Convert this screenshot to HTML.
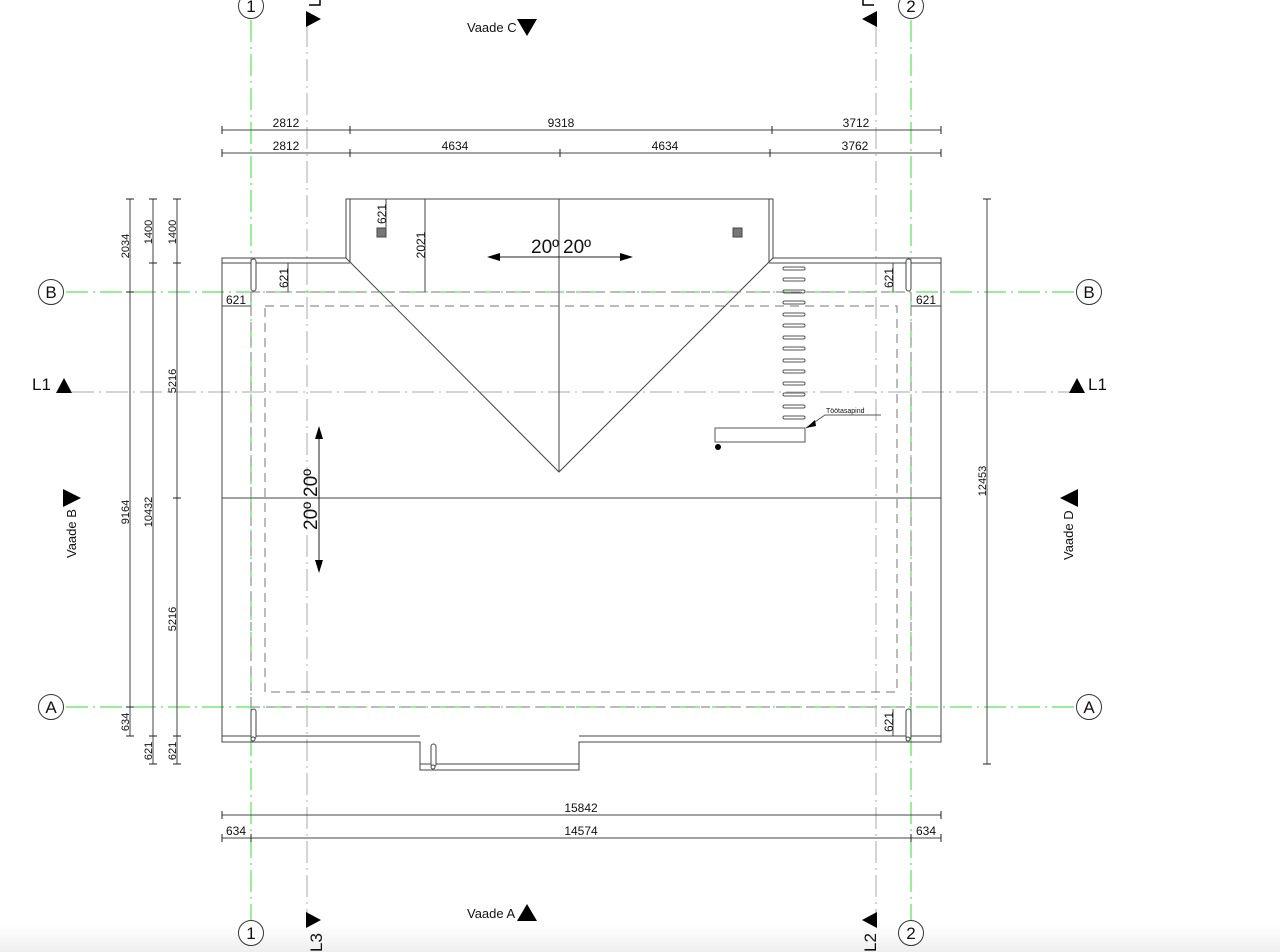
<!DOCTYPE html>
<html><head><meta charset="utf-8"><style>
html,body{margin:0;padding:0;background:#fff;}
svg{display:block;font-family:"Liberation Sans",Arial,sans-serif;}
</style></head><body>
<svg width="1280" height="952" viewBox="0 0 1280 952" xmlns="http://www.w3.org/2000/svg">
<defs>
<linearGradient id="bg" x1="0" y1="0" x2="0" y2="1"><stop offset="0" stop-color="#fff"/><stop offset="1" stop-color="#eeeeee"/></linearGradient>
</defs>
<rect width="1280" height="952" fill="#fff"/>
<rect x="0" y="925" width="1280" height="27" fill="url(#bg)"/>

<g stroke="#33dd33" stroke-width="1" stroke-dasharray="22,5,2,5" fill="none">
<line x1="251" y1="20" x2="251" y2="920"/>
<line x1="911" y1="20" x2="911" y2="920"/>
<line x1="66" y1="292" x2="1076" y2="292"/>
<line x1="66" y1="707" x2="1076" y2="707"/>
</g>
<g stroke="#aaa" stroke-width="1" stroke-dasharray="22,5,2,5" fill="none">
<line x1="307" y1="25" x2="307" y2="915"/>
<line x1="876" y1="25" x2="876" y2="915"/>
<line x1="72" y1="392" x2="1070" y2="392"/>
</g>

<g fill="#fff" stroke="#333" stroke-width="1">
<circle cx="251" cy="6" r="12.5"/><circle cx="911" cy="6" r="12.5"/>
<circle cx="251" cy="933" r="12.5"/><circle cx="911" cy="933" r="12.5"/>
<circle cx="51" cy="292" r="12.5"/><circle cx="1089" cy="292" r="12.5"/>
<circle cx="51" cy="707" r="12.5"/><circle cx="1089" cy="707" r="12.5"/>
</g>
<g font-size="17" text-anchor="middle" fill="#111">
<text x="251" y="12">1</text><text x="911" y="12">2</text>
<text x="251" y="939">1</text><text x="911" y="939">2</text>
<text x="51" y="298">B</text><text x="1089" y="298">B</text>
<text x="51" y="713">A</text><text x="1089" y="713">A</text>
</g>

<g fill="#000">
<polygon points="306,11 321,19 306,27"/>
<polygon points="877,11 862,19 877,27"/>
<polygon points="306,912 321,920 306,928"/>
<polygon points="877,912 862,920 877,928"/>
<polygon points="56,393 64,378 72,393"/>
<polygon points="1069,393 1077,378 1085,393"/>
<polygon points="517,19 537,19 527,36"/>
<polygon points="517,921 537,921 527,904"/>
<polygon points="63,489 81,498 63,507"/>
<polygon points="1078,489 1060,498 1078,507"/>
</g>
<path d="M309,5 H320 V-6" stroke="#000" stroke-width="1.5" fill="none"/>
<path d="M874,5 H863 V-6" stroke="#000" stroke-width="1.5" fill="none"/>
<g font-size="17" fill="#111">
<text x="32" y="390">L1</text>
<text x="1088" y="390">L1</text>
<text transform="translate(322,952) rotate(-90)">L3</text>
<text transform="translate(876,952) rotate(-90)">L2</text>
</g>
<g font-size="13" fill="#111">
<text x="467" y="32">Vaade C</text>
<text x="467" y="918">Vaade A</text>
<text transform="translate(76,558) rotate(-90)">Vaade B</text>
<text transform="translate(1073,560) rotate(-90)">Vaade D</text>
</g>

<g stroke="#444" stroke-width="1" fill="none">
<path d="M346,258 V199 H773 V258"/>
<path d="M350,262 V199 M769,262 V199"/>
<path d="M346,258 H222 V742 H420 V770 H579 V742 H941 V258 H773"/>
<path d="M222,263 H350 M769,263 H941"/>
<path d="M222,736 H420 M579,736 H941"/>
<path d="M420,764 H579"/>
<path d="M346,258 L350,262 M773,258 L769,262"/>
<path d="M350,262 L559,472 L769,262"/>
<line x1="559" y1="199" x2="559" y2="472"/>
<line x1="222" y1="498" x2="941" y2="498"/>
</g>
<g stroke="#777" stroke-width="1" stroke-dasharray="9,6" fill="none">
<line x1="251" y1="292" x2="911" y2="292"/>
<line x1="251" y1="707" x2="911" y2="707"/>
<line x1="251" y1="292" x2="251" y2="707"/>
<line x1="911" y1="292" x2="911" y2="707"/>
<rect x="265" y="306" width="632" height="386"/>
</g>

<g stroke="#444" stroke-width="1" fill="#fff">
<rect x="251" y="259" width="5" height="32" rx="2.5"/>
<rect x="906" y="259" width="5" height="32" rx="2.5"/>
<rect x="251" y="709" width="5" height="30" rx="2.5"/>
<rect x="906" y="709" width="5" height="30" rx="2.5"/>
<rect x="431" y="744" width="5" height="23" rx="2.5"/>
<circle cx="253" cy="739" r="2"/><circle cx="908" cy="739" r="2"/><circle cx="433" cy="767" r="2"/>
</g>
<rect x="377" y="228" width="9" height="9" fill="#777" stroke="#444"/>
<rect x="733" y="228" width="9" height="9" fill="#777" stroke="#444"/>

<g stroke="#555" stroke-width="1" fill="none">
<rect x="783" y="267" width="22" height="3" rx="1.5"/><rect x="783" y="278" width="22" height="3" rx="1.5"/>
<rect x="783" y="290" width="22" height="3" rx="1.5"/><rect x="783" y="301" width="22" height="3" rx="1.5"/>
<rect x="783" y="313" width="22" height="3" rx="1.5"/><rect x="783" y="324" width="22" height="3" rx="1.5"/>
<rect x="783" y="336" width="22" height="3" rx="1.5"/><rect x="783" y="347" width="22" height="3" rx="1.5"/>
<rect x="783" y="359" width="22" height="3" rx="1.5"/><rect x="783" y="370" width="22" height="3" rx="1.5"/>
<rect x="783" y="382" width="22" height="3" rx="1.5"/><rect x="783" y="393" width="22" height="3" rx="1.5"/>
<rect x="783" y="405" width="22" height="3" rx="1.5"/><rect x="783" y="416" width="22" height="3" rx="1.5"/>
<rect x="715" y="428" width="90" height="14"/>
<path d="M806,428 L825,415 H881"/>
</g>
<polygon points="806,428 815,420 816,426" fill="#000"/>
<circle cx="718" cy="447" r="3" fill="#000"/>
<text x="826" y="413" font-size="7" fill="#111">Töötasapind</text>

<g stroke="#222" stroke-width="1">
<line x1="495" y1="257" x2="625" y2="257"/>
<line x1="319" y1="434" x2="319" y2="565"/>
</g>
<g fill="#000">
<polygon points="487,257 500,253 500,261"/><polygon points="633,257 620,253 620,261"/>
<polygon points="319,426 315,439 323,439"/><polygon points="319,573 315,560 323,560"/>
</g>
<g font-size="19" fill="#111">
<text x="531" y="253">20º</text><text x="563" y="253">20º</text>
<text transform="translate(317,497) rotate(-90)">20º</text>
<text transform="translate(317,530) rotate(-90)">20º</text>
</g>

<g stroke="#444" stroke-width="1">
<line x1="222" y1="130" x2="941" y2="130"/><line x1="222" y1="153" x2="941" y2="153"/>
<line x1="222" y1="815" x2="941" y2="815"/><line x1="222" y1="838" x2="941" y2="838"/>
<line x1="130" y1="199" x2="130" y2="736"/>
<line x1="153" y1="199" x2="153" y2="764"/>
<line x1="177" y1="199" x2="177" y2="764"/>
<line x1="987" y1="199" x2="987" y2="764"/>
<line x1="425" y1="199" x2="425" y2="292"/>
<line x1="386" y1="199" x2="386" y2="228"/>
<line x1="288" y1="263" x2="288" y2="292"/>
<line x1="893" y1="263" x2="893" y2="292"/>
<line x1="893" y1="709" x2="893" y2="736"/>
<line x1="222" y1="306" x2="251" y2="306"/>
<line x1="911" y1="306" x2="941" y2="306"/>
</g>
<g stroke="#222" stroke-width="1">
<path d="M222,126v8M350,126v8M772,126v8M941,126v8"/>
<path d="M222,149v8M350,149v8M560,149v8M770,149v8M941,149v8"/>
<path d="M222,811v8M941,811v8"/>
<path d="M222,834v8M251,834v8M911,834v8M941,834v8"/>
<path d="M126,199h8M126,292h8M126,707h8M126,736h8"/>
<path d="M149,199h8M149,263h8M149,736h8M149,764h8"/>
<path d="M173,199h8M173,263h8M173,498h8M173,736h8M173,764h8"/>
<path d="M983,199h8M983,764h8"/>
</g>
<g font-size="12" fill="#111" text-anchor="middle">
<text x="286" y="127">2812</text><text x="561" y="127">9318</text><text x="856" y="127">3712</text>
<text x="286" y="150">2812</text><text x="455" y="150">4634</text><text x="665" y="150">4634</text><text x="855" y="150">3762</text>
<text x="581" y="812">15842</text>
<text x="236" y="835">634</text><text x="581" y="835">14574</text><text x="926" y="835">634</text>
<text x="236" y="304">621</text><text x="926" y="304">621</text>
</g>
<g font-size="11" fill="#111" text-anchor="middle">
<text transform="translate(129,246) rotate(-90)">2034</text>
<text transform="translate(129,512) rotate(-90)">9164</text>
<text transform="translate(129,722) rotate(-90)">634</text>
<text transform="translate(152,232) rotate(-90)">1400</text>
<text transform="translate(152,512) rotate(-90)">10432</text>
<text transform="translate(152,751) rotate(-90)">621</text>
<text transform="translate(176,232) rotate(-90)">1400</text>
<text transform="translate(176,381) rotate(-90)">5216</text>
<text transform="translate(176,619) rotate(-90)">5216</text>
<text transform="translate(176,751) rotate(-90)">621</text>
<text transform="translate(986,481) rotate(-90)">12453</text>
<text font-size="12" transform="translate(425,245) rotate(-90)">2021</text>
<text font-size="12" transform="translate(386,214) rotate(-90)">621</text>
<text font-size="12" transform="translate(288,278) rotate(-90)">621</text>
<text font-size="12" transform="translate(893,278) rotate(-90)">621</text>
<text font-size="12" transform="translate(893,722) rotate(-90)">621</text>
</g>
</svg>
</body></html>
